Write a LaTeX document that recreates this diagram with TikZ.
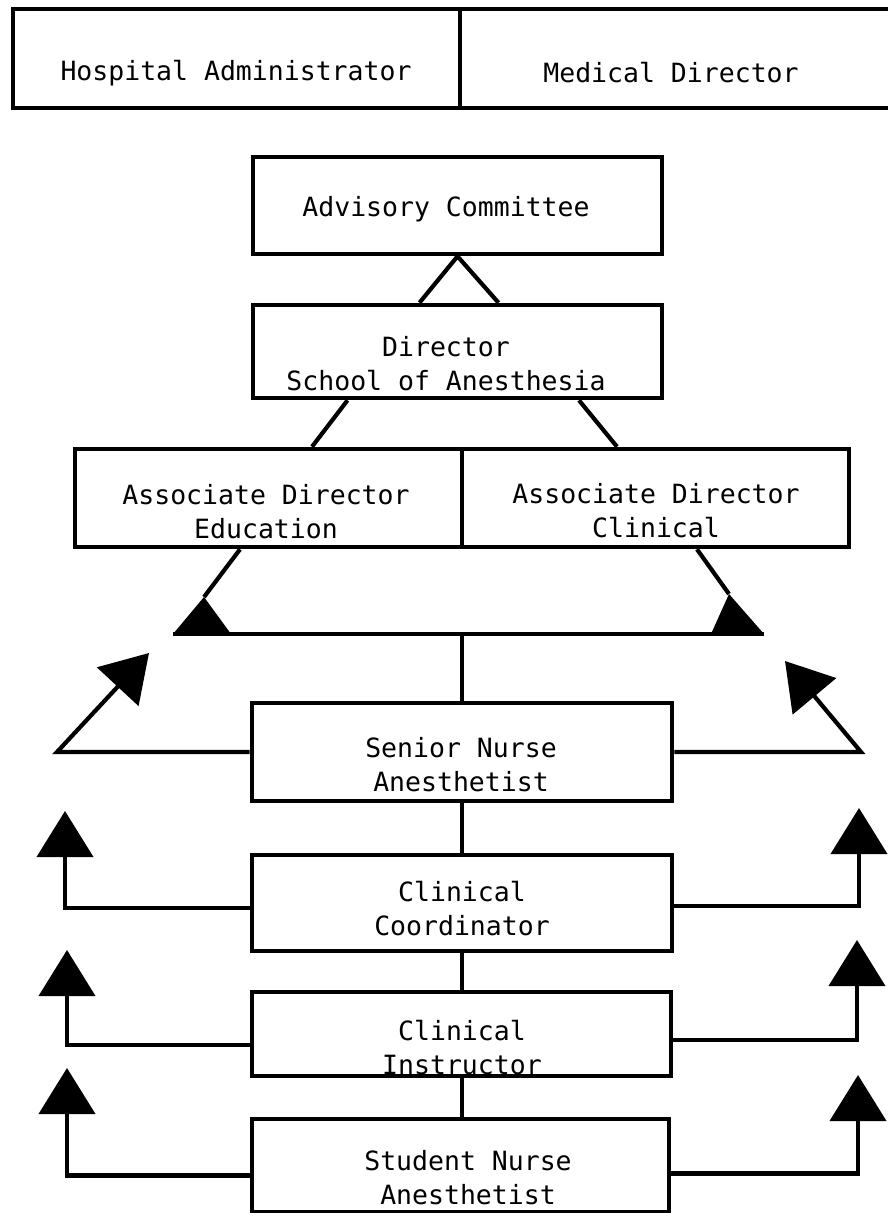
\documentclass[tikz,border=0pt]{standalone}
\usepackage{fontspec}
\newfontfamily\tw{DejaVu Sans Mono}
\usetikzlibrary{arrows.meta,fit,calc}
\begin{document}
\begin{tikzpicture}[x=1pt,y=-1pt,
  box/.style={draw, line width=4.6pt, rectangle, inner sep=0pt},
  lbl/.style={font=\tw\fontsize{26.5}{34}\selectfont, align=center, inner sep=0pt},
  conn/.style={line width=4.2pt},
  upar/.style={conn, -{Triangle[length=46pt,width=56pt]}}]
\useasboundingbox (0,0) rectangle (888,1213);
\clip (0,0) rectangle (888,1213);
\fill[white] (0,0) rectangle (888,1213);
% top boxes
\node[box, fit={(13,9) (460,108)}] (hosp) {};
\node[box, fit={(460,9) (905,108)}] (med) {};
\node[lbl] (hospT) at (236,73) {Hospital Administrator};
\node[lbl] (medT) at (671,73) {Medical Director};
% advisory and director
\node[box, fit={(253,157) (662,254)}] (adv) {};
\node[lbl] (advT) at (446,209) {Advisory Committee};
\node[box, fit={(253,305) (662,398)}] (dir) {};
\node[lbl] (dirT) at (446,364) {Director\\School of Anesthesia};
% associates
\node[box, fit={(75,449) (462,547)}] (ase) {};
\node[box, fit={(462,449) (849,547)}] (asc) {};
\node[lbl] (aseT) at (266,512) {Associate Director\\Education};
\node[lbl] (ascT) at (656,511) {Associate Director\\Clinical};
% lower chain
\node[box, fit={(252,703) (672,801)}] (sen) {};
\node[lbl] (senT) at (461,765) {Senior Nurse\\Anesthetist};
\node[box, fit={(252,855) (672,951)}] (coo) {};
\node[lbl] (cooT) at (462,909) {Clinical\\Coordinator};
\node[box, fit={(252,992) (671,1076)}] (ins) {};
\node[lbl] (insT) at (462,1048) {Clinical\\Instructor};
\node[box, fit={(252,1119) (669,1212)}] (stu) {};
\node[lbl] (stuT) at (468,1178) {Student Nurse\\Anesthetist};
% named coordinates
\coordinate (wLtop) at (204,597);
\coordinate (wRtop) at (729,594);
\coordinate (barL) at (173,634);
\coordinate (barR) at (764,634);
\coordinate (sL) at (57,752);
\coordinate (sLt) at (149,653);
\coordinate (sR) at (861,752);
\coordinate (sRt) at (785,661);
\coordinate (cLt) at (65,811);
\coordinate (cRt) at (859,808);
\coordinate (iLt) at (67,950);
\coordinate (iRt) at (857,940);
\coordinate (tLt) at (67,1068);
\coordinate (tRt) at (858,1075);
% connectors
\draw[conn] (adv.south) -- ($(dir.north)+(-38,0)$);
\draw[conn] (adv.south) -- ($(dir.north)+(41,0)$);
\draw[conn] ($(dir.south)+(-110,0)$) -- ($(ase.north)+(43.5,0)$);
\draw[conn] ($(dir.south)+(121.5,0)$) -- ($(asc.north)+(-38.5,0)$);
\draw[conn] ($(ase.south)+(-28.5,0)$) -- (wLtop);
\draw[conn] ($(asc.south)+(41.5,0)$) -- (wRtop);
\fill[line join=miter] (barL) -- (231,634) -- (wLtop) -- cycle;
\fill[line join=miter] (711,634) -- (barR) -- (wRtop) -- cycle;
\draw[conn] (barL) -- (barR);
\draw[conn] (sen.north |- barL) -- (sen.north);
\draw[upar] (sen.west) -- (sL) -- (sLt);
\draw[upar] (sen.east) -- (sR) -- (sRt);
\draw[conn] (sen.south) -- (sen.south |- coo.north);
\draw[conn] (coo.south) -- (coo.south |- ins.north);
\draw[conn] (coo.south |- ins.south) -- (coo.south |- stu.north);
\draw[upar] ([yshift=-5pt]coo.west) -| (cLt);
\draw[upar] ([yshift=-3pt]coo.east) -| (cRt);
\draw[upar] ([yshift=-11pt]ins.west) -| (iLt);
\draw[upar] ([yshift=-6pt]ins.east) -| (iRt);
\draw[upar] ([yshift=-10pt]stu.west) -| (tLt);
\draw[upar] ([yshift=-8pt]stu.east) -| (tRt);
\end{tikzpicture}
\end{document}
